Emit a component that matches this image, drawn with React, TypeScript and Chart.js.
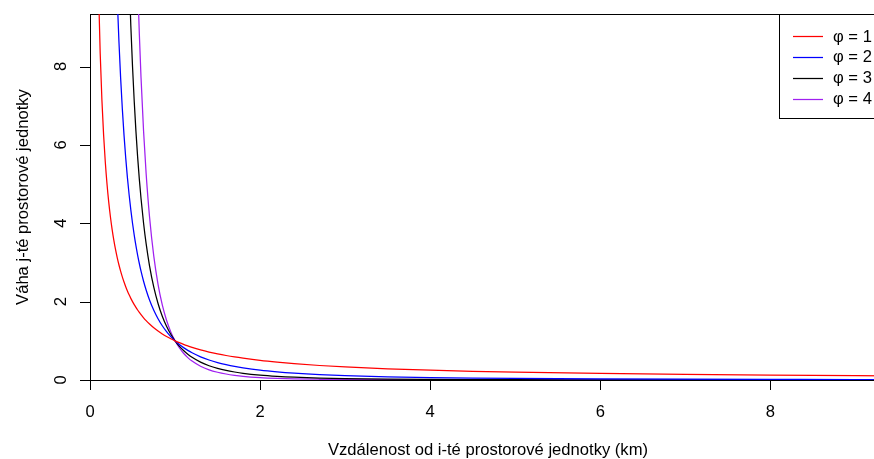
import React, { useEffect, useRef } from 'react';
import { Chart, registerables } from 'chart.js';

Chart.register(...registerables);

// Distance from the i-th spatial unit (km)
const DIST = [
  0.1, 0.12, 0.14, 0.16, 0.18, 0.2, 0.22, 0.24, 0.26, 0.28,
  0.3, 0.32, 0.34, 0.36, 0.38, 0.4, 0.42, 0.44, 0.46, 0.48,
  0.5, 0.52, 0.54, 0.56, 0.58, 0.6, 0.63, 0.66, 0.7, 0.75,
  0.8, 0.85, 0.9, 0.95, 1.0, 1.05, 1.1, 1.15, 1.2, 1.3,
  1.4, 1.5, 1.6, 1.7, 1.8, 2.0, 2.2, 2.4, 2.7, 3.0,
  3.5, 4.0, 4.5, 5.0, 6.0, 7.0, 8.0, 9.0, 10.0,
];

// Weights (null = far above the visible range)
const W_PHI1 = [
  10, 8.333, 7.143, 6.25, 5.556, 5, 4.545, 4.167, 3.846, 3.571,
  3.333, 3.125, 2.941, 2.778, 2.632, 2.5, 2.381, 2.273, 2.174, 2.083,
  2, 1.923, 1.852, 1.786, 1.724, 1.667, 1.587, 1.515, 1.429, 1.333,
  1.25, 1.176, 1.111, 1.053, 1, 0.952, 0.909, 0.87, 0.833, 0.769,
  0.714, 0.667, 0.625, 0.588, 0.556, 0.5, 0.455, 0.417, 0.37, 0.333,
  0.286, 0.25, 0.222, 0.2, 0.167, 0.143, 0.125, 0.111, 0.1,
];
const W_PHI2 = [
  null, null, null, null, null, null, null, null, null, null,
  11.111, 9.766, 8.651, 7.716, 6.925, 6.25, 5.669, 5.165, 4.726, 4.34,
  4, 3.698, 3.429, 3.189, 2.973, 2.778, 2.52, 2.296, 2.041, 1.778,
  1.563, 1.384, 1.235, 1.108, 1, 0.907, 0.826, 0.756, 0.694, 0.592,
  0.51, 0.444, 0.391, 0.346, 0.309, 0.25, 0.207, 0.174, 0.137, 0.111,
  0.082, 0.063, 0.049, 0.04, 0.028, 0.02, 0.016, 0.012, 0.01,
];
const W_PHI3 = [
  null, null, null, null, null, null, null, null, null, null,
  null, null, null, null, null, null, null, 11.739, 10.274, 9.042,
  8, 7.112, 6.351, 5.694, 5.125, 4.63, 3.999, 3.478, 2.915, 2.37,
  1.953, 1.628, 1.372, 1.166, 1, 0.864, 0.751, 0.658, 0.579, 0.455,
  0.364, 0.296, 0.244, 0.204, 0.171, 0.125, 0.094, 0.072, 0.051, 0.037,
  0.023, 0.016, 0.011, 0.008, 0.005, 0.003, 0.002, 0.001, 0.001,
];
const W_PHI4 = [
  null, null, null, null, null, null, null, null, null, null,
  null, null, null, null, null, null, null, null, null, null,
  null, null, 11.76, 10.168, 8.837, 7.716, 6.348, 5.27, 4.165, 3.16,
  2.441, 1.916, 1.524, 1.228, 1, 0.823, 0.683, 0.572, 0.482, 0.35,
  0.26, 0.198, 0.153, 0.12, 0.095, 0.063, 0.043, 0.03, 0.019, 0.012,
  0.007, 0.004, 0.002, 0.002, 0.001, 0.0004, 0.0002, 0.0002, 0.0001,
];

const SERIES = [W_PHI1, W_PHI2, W_PHI3, W_PHI4];
const SERIES_LABELS = ['φ = 1', 'φ = 2', 'φ = 3', 'φ = 4'];
const SERIES_COLORS = ['#FF0000', '#0000FF', '#000000', '#A020F0'];

const X_TICKS = [0, 2, 4, 6, 8];
const Y_TICKS = [0, 2, 4, 6, 8];
const X_MAX = 9.36;
const Y_MAX = 9.34;
const X_TITLE = 'Vzdálenost od i-té prostorové jednotky (km)';
const Y_TITLE = 'Váha j-té prostorové jednotky';

const CANVAS_W = 900;
const CANVAS_H = 459;
const FONT = '16.6px "Liberation Sans", Arial, Helvetica, sans-serif';

const rPlot = {
  id: 'rPlot',
  beforeDatasetsDraw(chart: any) {
    const { ctx, chartArea: a, scales } = chart;
    const x = scales.x;
    const y = scales.y;
    ctx.save();
    ctx.strokeStyle = '#000';
    ctx.lineWidth = 1;
    ctx.strokeRect(Math.round(a.left) + 0.5, Math.round(a.top) + 0.5, a.right - a.left, a.bottom - a.top);
    ctx.beginPath();
    X_TICKS.forEach((v) => {
      const px = Math.round(x.getPixelForValue(v)) + 0.5;
      ctx.moveTo(px, a.bottom);
      ctx.lineTo(px, a.bottom + 10);
    });
    Y_TICKS.forEach((v) => {
      const py = Math.round(y.getPixelForValue(v)) + 0.5;
      ctx.moveTo(a.left, py);
      ctx.lineTo(a.left - 10, py);
    });
    ctx.stroke();

    ctx.fillStyle = '#000';
    ctx.font = FONT;
    ctx.textAlign = 'center';
    ctx.textBaseline = 'alphabetic';
    X_TICKS.forEach((v) => ctx.fillText(String(v), x.getPixelForValue(v), a.bottom + 37));
    Y_TICKS.forEach((v) => {
      ctx.save();
      ctx.translate(a.left - 24, y.getPixelForValue(v));
      ctx.rotate(-Math.PI / 2);
      ctx.fillText(String(v), 0, 0);
      ctx.restore();
    });
    ctx.fillText(X_TITLE, (a.left + a.right) / 2, a.bottom + 75);
    ctx.save();
    ctx.translate(a.left - 62, (a.top + a.bottom) / 2);
    ctx.rotate(-Math.PI / 2);
    ctx.fillText(Y_TITLE, 0, 0);
    ctx.restore();
    ctx.restore();
  },
  afterDatasetsDraw(chart: any) {
    const { ctx, chartArea: a } = chart;
    const left = a.right - 107;
    const top = a.top;
    const h = 104;
    ctx.save();
    ctx.fillStyle = '#fff';
    ctx.fillRect(left, top, a.right - left, h);
    ctx.strokeStyle = '#000';
    ctx.lineWidth = 1;
    ctx.strokeRect(Math.round(left) + 0.5, Math.round(top) + 0.5, a.right - left, h);
    ctx.font = FONT;
    ctx.textAlign = 'left';
    ctx.textBaseline = 'middle';
    chart.data.datasets.forEach((ds: any, i: number) => {
      const ry = top + 22 + i * 20.9;
      ctx.strokeStyle = ds.borderColor;
      ctx.lineWidth = 1.25;
      ctx.beginPath();
      ctx.moveTo(left + 14, Math.round(ry) + 0.5);
      ctx.lineTo(left + 44, Math.round(ry) + 0.5);
      ctx.stroke();
      ctx.fillStyle = '#000';
      ctx.fillText(ds.label, left + 54, ry + 1);
    });
    ctx.restore();
  },
};

export default function App() {
  const ref = useRef<HTMLCanvasElement | null>(null);
  useEffect(() => {
    if (!ref.current) return;
    const chart = new Chart(ref.current, {
      type: 'line',
      data: {
        datasets: SERIES.map((vals, i) => ({
          label: SERIES_LABELS[i],
          data: DIST.map((d, j) => ({ x: d, y: vals[j] })),
          borderColor: SERIES_COLORS[i],
          backgroundColor: SERIES_COLORS[i],
          borderWidth: 1.25,
          pointRadius: 0,
          fill: false,
          cubicInterpolationMode: 'monotone',
          spanGaps: false,
        })),
      },
      options: {
        animation: false,
        responsive: false,
        devicePixelRatio: 1,
        events: [],
        layout: { padding: { top: 14, right: CANVAS_W - 886, left: 0, bottom: 0 } },
        plugins: { legend: { display: false }, tooltip: { enabled: false } },
        scales: {
          x: {
            type: 'linear',
            min: 0,
            max: X_MAX,
            grid: { display: false },
            border: { display: false },
            ticks: { display: false },
            afterFit: (s: any) => { s.height = 79; },
          },
          y: {
            type: 'linear',
            min: 0,
            max: Y_MAX,
            grid: { display: false },
            border: { display: false },
            ticks: { display: false },
            afterFit: (s: any) => { s.width = 90; },
          },
        },
      } as any,
      plugins: [rPlot],
    });
    return () => chart.destroy();
  }, []);
  return (
    <div style={{ position: 'fixed', left: 0, top: 0, width: 874, height: 459, overflow: 'hidden', background: '#fff' }}>
      <canvas ref={ref} width={CANVAS_W} height={CANVAS_H} style={{ display: 'block', width: CANVAS_W, height: CANVAS_H }} />
    </div>
  );
}
